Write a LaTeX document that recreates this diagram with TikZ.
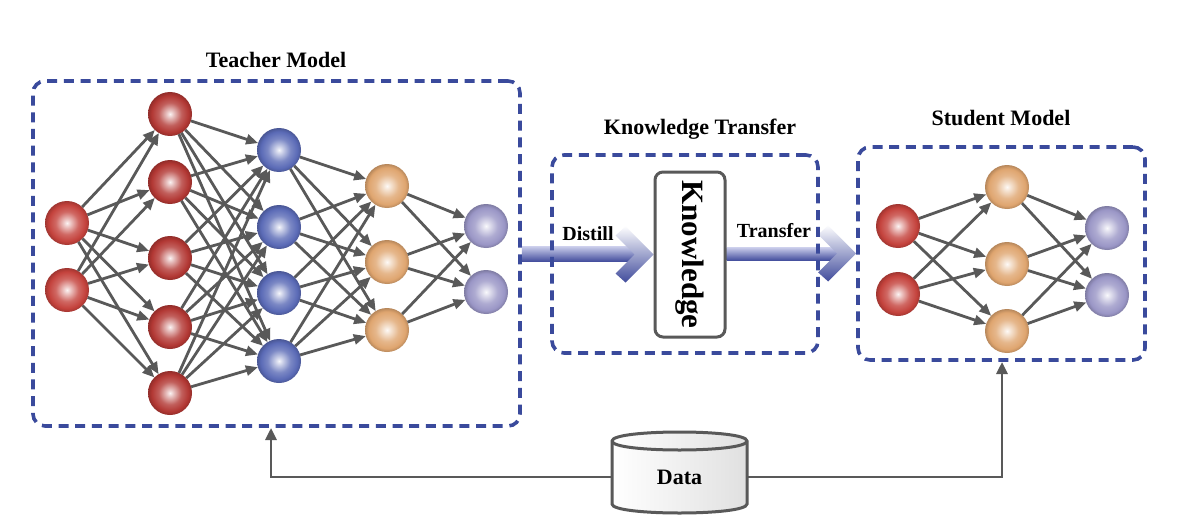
\documentclass[tikz,border=0pt]{standalone}
\usepackage{fontspec}
\setmainfont{Liberation Serif}
\usetikzlibrary{arrows.meta,calc,backgrounds}
\definecolor{boxblue}{HTML}{3A4A9C}
\definecolor{edgegray}{HTML}{595959}
\definecolor{redin}{HTML}{C4423C}
\definecolor{redhid}{HTML}{B23733}
\definecolor{bluen}{HTML}{5A6AB6}
\definecolor{orangen}{HTML}{DFA56F}
\definecolor{purplen}{HTML}{9A96C6}
\definecolor{arrowlight}{HTML}{C9CCEA}
\definecolor{arrowmid}{HTML}{6A72BA}
\definecolor{arrowdark}{HTML}{414C9C}
\newcommand{\declball}[2]{\pgfdeclareradialshading{#1}{\pgfpoint{0bp}{0bp}}{color(0bp)=(#2!6!white); color(4bp)=(#2!30!white); color(13bp)=(#2!80!white); color(21bp)=(#2); color(25bp)=(#2!82!black); color(50bp)=(#2!82!black)}}
\declball{ballredin}{redin}
\declball{ballredhid}{redhid}
\declball{ballblue}{bluen}
\declball{ballorange}{orangen}
\declball{ballpurple}{purplen}
\tikzset{
  neuron/.style={circle, minimum size=44pt, inner sep=0pt, outer sep=0pt, shade},
  nredin/.style={neuron, shading=ballredin},
  nredhid/.style={neuron, shading=ballredhid},
  nblue/.style={neuron, shading=ballblue},
  norange/.style={neuron, shading=ballorange},
  npurple/.style={neuron, shading=ballpurple},
  conn/.style={draw=edgegray, line width=2.8pt, -{Triangle[length=12pt,width=10pt]}},
  dconn/.style={draw=edgegray, line width=2.8pt, -{Triangle[length=12pt,width=11pt]}},
  dbox/.style={draw=boxblue, line width=3.6pt, dash pattern=on 10pt off 6.7pt, rounded corners=12pt, inner sep=0pt},
  titletext/.style={font=\fontsize{22}{26}\selectfont\bfseries, inner sep=0pt},
  arrowlabel/.style={font=\fontsize{20}{24}\selectfont\bfseries, inner sep=0pt},
  shaftshade/.style={top color=arrowlight, middle color=arrowmid, bottom color=arrowdark},
  headshade/.style={top color=white!95!arrowlight, bottom color=arrowdark},
}
\begin{document}
\begin{tikzpicture}[x=1pt,y=-1pt]
\useasboundingbox (0,0) rectangle (1180,532);

% dashed boxes
\node[dbox, minimum width=487pt, minimum height=345pt] (teacher) at (276.5,253.5) {};
\node[dbox, minimum width=266pt, minimum height=198pt] (kt) at (685,254) {};
\node[dbox, minimum width=287pt, minimum height=213pt] (student) at (1001.5,253.5) {};

% titles
\node[titletext, anchor=base] (tteacher) at (276,68) {Teacher Model};
\node[titletext, anchor=base] (tkt) at (700,135) {Knowledge Transfer};
\node[titletext, anchor=base] (tstudent) at (1001,126) {Student Model};

% knowledge box
\node[draw=edgegray, line width=3pt, rounded corners=8pt, fill=white,
      minimum width=70pt, minimum height=165pt, inner sep=0pt,
      font=\fontsize{31}{34}\selectfont\bfseries] (know) at (690,254.5)
      {\rotatebox{-90}{Knowledge}};

% white page and fat arrows (behind the dashed boxes)
\begin{pgfonlayer}{background}
  \fill[white] (0,0) rectangle (1180,532);
  \shade[shaftshade] ($(teacher.east)+(0,-7)$) rectangle ($(know.west)+(-16,7)$);
  \begin{scope}[shift={(know.west)}]
    \shade[headshade] (0,0) -- (-28,-28) -- (-38,-19) -- (-19,0) -- (-38,19) -- (-28,28) -- cycle;
  \end{scope}
  \shade[shaftshade] ($(know.east)+(0,-7)$) rectangle ($(student.west)+(-16,7)$);
  \begin{scope}[shift={(student.west)}]
    \shade[headshade] (0,0) -- (-28,-28) -- (-38,-19) -- (-19,0) -- (-38,19) -- (-28,28) -- cycle;
  \end{scope}
\end{pgfonlayer}

\node[arrowlabel, anchor=base] (ldistill) at (588,240) {Distill};
\node[arrowlabel, anchor=base] (ltransfer) at (774,237) {Transfer};

% teacher network
\foreach \y [count=\i] in {223,290} \node[nredin] (ti\i) at (67,\y) {};
\foreach \y [count=\i] in {114,182,258,327,393} \node[nredhid] (ta\i) at (170,\y) {};
\foreach \y [count=\i] in {150,227,293,361} \node[nblue] (tb\i) at (279,\y) {};
\foreach \y [count=\i] in {186,262,330} \node[norange] (tc\i) at (387,\y) {};
\foreach \y [count=\i] in {226,292} \node[npurple] (to\i) at (486,\y) {};

\foreach \i in {1,2} \foreach \j in {1,...,5} \draw[conn] (ti\i) -- (ta\j);
\foreach \i in {1,...,5} \foreach \j in {1,...,4} \draw[conn] (ta\i) -- (tb\j);
\foreach \i in {1,...,4} \foreach \j in {1,...,3} \draw[conn] (tb\i) -- (tc\j);
\foreach \i in {1,...,3} \foreach \j in {1,2} \draw[conn] (tc\i) -- (to\j);

% student network
\foreach \y [count=\i] in {226,294} \node[nredin] (si\i) at (898,\y) {};
\foreach \y [count=\i] in {187,264,331} \node[norange] (sh\i) at (1007,\y) {};
\foreach \y [count=\i] in {228,295} \node[npurple] (so\i) at (1107,\y) {};

\foreach \i in {1,2} \foreach \j in {1,...,3} \draw[conn] (si\i) -- (sh\j);
\foreach \i in {1,...,3} \foreach \j in {1,2} \draw[conn] (sh\i) -- (so\j);

% data cylinder
\shade[left color=white, right color=black!12, draw=edgegray, line width=3pt]
  (612,441) .. controls (612,429) and (747,429) .. (747,441)
  -- (747,504) .. controls (747,516) and (612,516) .. (612,504) -- cycle;
\draw[edgegray, line width=3pt] (612,441) .. controls (612,453) and (747,453) .. (747,441);
\node[minimum width=135pt, minimum height=81pt, inner sep=0pt,
      font=\fontsize{22}{26}\selectfont\bfseries] (data) at (679.5,477) {Data};

\coordinate (tin) at (271,428);
\coordinate (sin) at (1002,362);
\draw[dconn] (data.west) -| (tin);
\draw[dconn] (data.east) -| (sin);
\end{tikzpicture}
\end{document}
